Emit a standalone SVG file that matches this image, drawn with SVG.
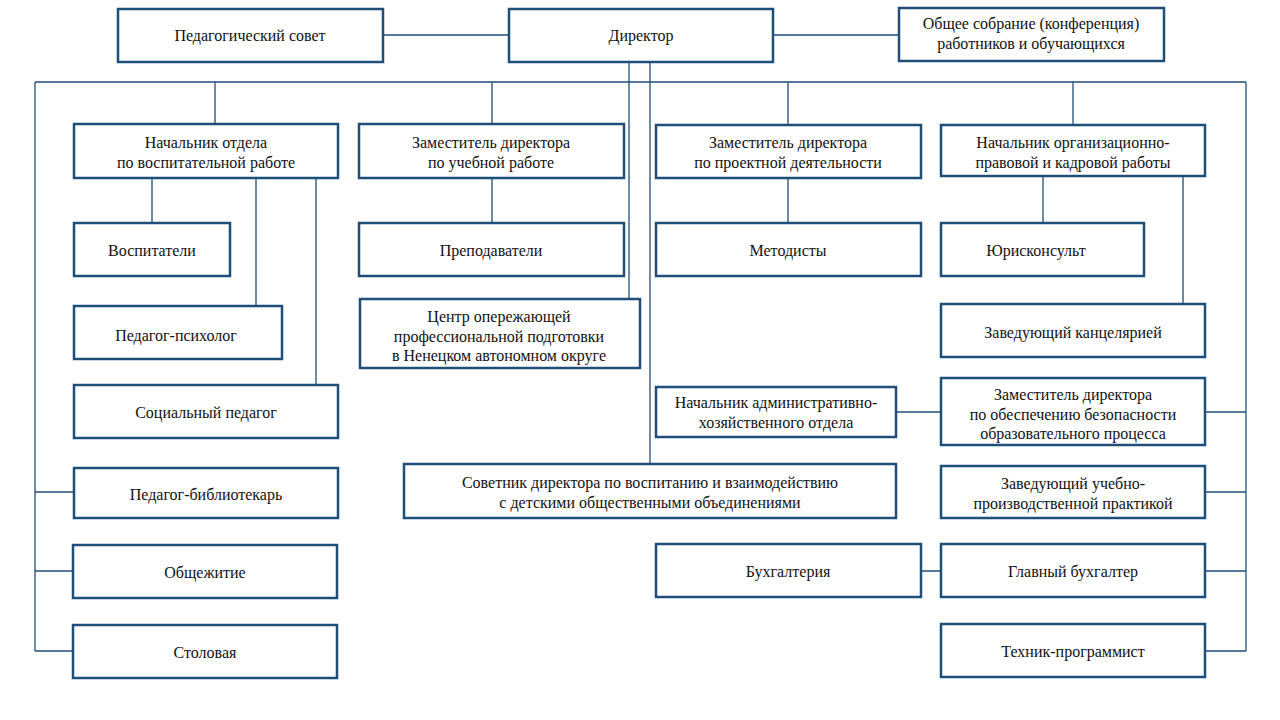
<svg xmlns="http://www.w3.org/2000/svg" width="1280" height="720" viewBox="0 0 1280 720">
<style>
.b{fill:#fff;stroke:#1F4E79;stroke-width:2.5}
.t{font-family:"Liberation Serif","Times New Roman",serif;font-size:16px;fill:#111;text-anchor:middle}
.c{fill:none;stroke:#1F4E79;stroke-width:1.3}
</style>
<rect width="1280" height="720" fill="#fff"/>
<g id="connectors" class="c">
<path d="M383 35H509M773 35H899"/>
<path d="M35 82H1246M35 82V651M1246 82V651"/>
<path d="M215 82V124M492 82V124M788 82V125M1073 82V125"/>
<path d="M629 62V299M650 62V464"/>
<path d="M152 178V223M256 178V306M316 178V385M492 178V223M788 178V223M1043 176V223M1183 176V304"/>
<path d="M35 492H74M35 571H73M35 651H73"/>
<path d="M896 412H941M1205 412H1246M1205 492H1246M921 571H941M1205 571H1246M1205 651H1246"/>
</g>
<g id="pedsovet"><rect class="b" x="118" y="9" width="265" height="53"/><text class="t" x="250" y="41">Педагогический совет</text></g>
<g id="director"><rect class="b" x="509" y="9" width="264" height="53"/><text class="t" x="641" y="41">Директор</text></g>
<g id="sobranie"><rect class="b" x="899" y="8" width="265" height="53"/><text class="t" x="1031" y="29">Общее собрание (конференция)</text><text class="t" x="1031" y="49">работников и обучающихся</text></g>
<g id="nach-vosp"><rect class="b" x="74" y="124" width="264" height="54"/><text class="t" x="206" y="148">Начальник отдела</text><text class="t" x="206" y="168">по воспитательной работе</text></g>
<g id="zam-ucheb"><rect class="b" x="359" y="124" width="265" height="54"/><text class="t" x="491" y="148">Заместитель директора</text><text class="t" x="491" y="168">по учебной работе</text></g>
<g id="zam-proekt"><rect class="b" x="656" y="125" width="265" height="53"/><text class="t" x="788" y="148">Заместитель директора</text><text class="t" x="788" y="168">по проектной деятельности</text></g>
<g id="nach-org"><rect class="b" x="941" y="125" width="264" height="51"/><text class="t" x="1073" y="148">Начальник организационно-</text><text class="t" x="1073" y="168">правовой и кадровой работы</text></g>
<g id="vospitateli"><rect class="b" x="74" y="223" width="156" height="53"/><text class="t" x="152" y="256">Воспитатели</text></g>
<g id="prepodavateli"><rect class="b" x="359" y="223" width="265" height="53"/><text class="t" x="491" y="256">Преподаватели</text></g>
<g id="metodisty"><rect class="b" x="656" y="223" width="265" height="53"/><text class="t" x="788" y="256">Методисты</text></g>
<g id="yuriskonsult"><rect class="b" x="941" y="223" width="203" height="53"/><text class="t" x="1036" y="256">Юрисконсульт</text></g>
<g id="psiholog"><rect class="b" x="74" y="306" width="208" height="53"/><text class="t" x="176" y="341">Педагог-психолог</text></g>
<g id="centr"><rect class="b" x="360" y="299" width="280" height="69"/><text class="t" x="499" y="322">Центр опережающей</text><text class="t" x="499" y="342">профессиональной подготовки</text><text class="t" x="499" y="361">в Ненецком автономном округе</text></g>
<g id="kanc"><rect class="b" x="941" y="304" width="264" height="53"/><text class="t" x="1073" y="338">Заведующий канцелярией</text></g>
<g id="socped"><rect class="b" x="74" y="385" width="264" height="53"/><text class="t" x="206" y="418">Социальный педагог</text></g>
<g id="aho"><rect class="b" x="656" y="387" width="240" height="50"/><text class="t" x="776" y="408">Начальник административно-</text><text class="t" x="776" y="428">хозяйственного отдела</text></g>
<g id="zam-bez"><rect class="b" x="941" y="378" width="264" height="67"/><text class="t" x="1073" y="400">Заместитель директора</text><text class="t" x="1073" y="420">по обеспечению безопасности</text><text class="t" x="1073" y="439">образовательного процесса</text></g>
<g id="bibl"><rect class="b" x="74" y="468" width="264" height="50"/><text class="t" x="206" y="500">Педагог-библиотекарь</text></g>
<g id="sovetnik"><rect class="b" x="404" y="464" width="492" height="54"/><text class="t" x="650" y="488">Советник директора по воспитанию и взаимодействию</text><text class="t" x="650" y="508">с детскими общественными объединениями</text></g>
<g id="praktika"><rect class="b" x="941" y="466" width="264" height="52"/><text class="t" x="1073" y="489">Заведующий учебно-</text><text class="t" x="1073" y="509">производственной практикой</text></g>
<g id="obsh"><rect class="b" x="73" y="545" width="264" height="53"/><text class="t" x="205" y="578">Общежитие</text></g>
<g id="buh"><rect class="b" x="656" y="544" width="265" height="53"/><text class="t" x="788" y="577">Бухгалтерия</text></g>
<g id="glavbuh"><rect class="b" x="941" y="544" width="264" height="53"/><text class="t" x="1073" y="577">Главный бухгалтер</text></g>
<g id="stolovaya"><rect class="b" x="73" y="625" width="264" height="53"/><text class="t" x="205" y="658">Столовая</text></g>
<g id="tehnik"><rect class="b" x="941" y="624" width="264" height="53"/><text class="t" x="1073" y="657">Техник-программист</text></g>
</svg>
